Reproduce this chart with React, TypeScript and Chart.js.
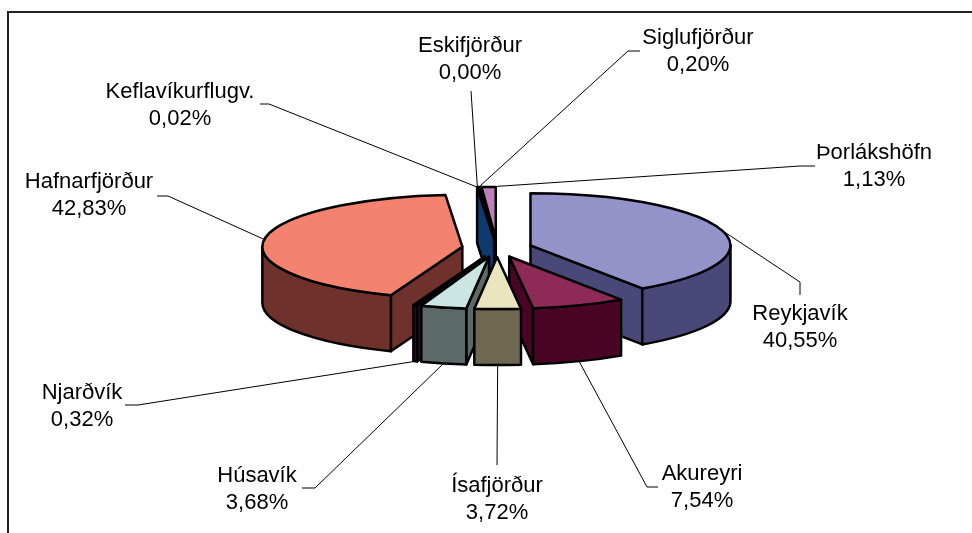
import React, { useEffect, useRef } from "react";
import { Chart, registerables } from "chart.js";

Chart.register(...registerables);

// ---- data ----
const categories = [
  "Reykjavík",
  "Akureyri",
  "Ísafjörður",
  "Húsavík",
  "Njarðvík",
  "Hafnarfjörður",
  "Keflavíkurflugv.",
  "Eskifjörður",
  "Siglufjörður",
  "Þorlákshöfn",
];
const shares = [40.55, 7.54, 3.72, 3.68, 0.32, 42.83, 0.02, 0.0, 0.2, 1.13];
const valueLabels = shares.map((v) => v.toFixed(2).replace(".", ",") + "%");

// ---- styles ----
const topColors = [
  "#9393C9",
  "#8E2A57",
  "#E9E6BF",
  "#CBE6E2",
  "#5C0A55",
  "#F3836E",
  "#1F5FAF",
  "#CCCCFF",
  "#0D2D5F",
  "#BF7FBD",
];
const sideColors = [
  "#4A4878",
  "#4A0525",
  "#6E6851",
  "#5B6967",
  "#3A0338",
  "#6F312C",
  "#0F3A70",
  "#66667F",
  "#0C2B5C",
  "#6A3A6A",
];

// label layout: [textCenterX, firstBaselineY, lineStartX, lineStartY, elbowX, elbowY]
const labelLayout = [
  [800, 320, 800, 295, 800, 282],
  [702, 480, 658, 487, 647, 487],
  [497, 492, 497, 465, 497, 465],
  [257, 482, 302, 488, 315, 488],
  [82, 399, 125, 405, 138, 405],
  [89, 188, 157, 196, 168, 196],
  [180, 98, 260, 104, 269, 104],
  [470, 52, 471, 91, 471, 91],
  [698, 44, 640, 51, 628, 51],
  [874, 159, 815, 166, 800, 166],
];

const TILT = 0.26;
const DEPTH = 56;
const EXPLODE = 35;
const LINE_H = 27;
const FONT = '22px "Liberation Sans", Arial, sans-serif';

function geom(arc: any) {
  const p = arc.getProps(["x", "y", "startAngle", "endAngle", "outerRadius"], true);
  const mid = (p.startAngle + p.endAngle) / 2;
  return {
    R: p.outerRadius as number,
    a0: p.startAngle as number,
    a1: p.endAngle as number,
    mid,
    ax: p.x + EXPLODE * Math.cos(mid),
    ay: p.y + EXPLODE * TILT * Math.sin(mid),
  };
}

function drawSlice(ctx: CanvasRenderingContext2D, g: any, top: string, side: string) {
  const { ax, ay, R, a0, a1 } = g;
  const ry = R * TILT;
  const px = (t: number) => ax + R * Math.cos(t);
  const py = (t: number) => ay + ry * Math.sin(t);
  ctx.lineWidth = 2.5;
  ctx.lineJoin = "round";
  ctx.strokeStyle = "#000";
  const face = (t: number) => {
    ctx.beginPath();
    ctx.moveTo(ax, ay);
    ctx.lineTo(px(t), py(t));
    ctx.lineTo(px(t), py(t) + DEPTH);
    ctx.lineTo(ax, ay + DEPTH);
    ctx.closePath();
    ctx.fillStyle = side;
    ctx.fill();
    ctx.stroke();
  };
  if (Math.cos(a0) < -1e-6) face(a0);
  if (Math.cos(a1) > 1e-6) face(a1);
  const t0 = Math.max(a0, 0);
  const t1 = Math.min(a1, Math.PI);
  if (t1 > t0) {
    ctx.beginPath();
    ctx.ellipse(ax, ay, R, ry, 0, t0, t1);
    ctx.lineTo(px(t1), py(t1) + DEPTH);
    ctx.ellipse(ax, ay + DEPTH, R, ry, 0, t1, t0, true);
    ctx.closePath();
    ctx.fillStyle = side;
    ctx.fill();
    ctx.stroke();
  }
  ctx.beginPath();
  ctx.moveTo(ax, ay);
  ctx.ellipse(ax, ay, R, ry, 0, a0, a1);
  ctx.closePath();
  ctx.fillStyle = top;
  ctx.fill();
  ctx.stroke();
}

const pie3d = {
  id: "pie3d",
  beforeDraw(chart: any) {
    const ctx = chart.ctx as CanvasRenderingContext2D;
    ctx.save();
    ctx.fillStyle = "#fff";
    ctx.fillRect(0, 0, chart.width, chart.height);
    ctx.strokeStyle = "#222";
    ctx.lineWidth = 2;
    ctx.beginPath();
    ctx.moveTo(8, chart.height + 10);
    ctx.lineTo(8, 12);
    ctx.lineTo(chart.width + 10, 12);
    ctx.stroke();
    ctx.restore();
  },
  beforeDatasetsDraw(chart: any) {
    const ctx = chart.ctx as CanvasRenderingContext2D;
    const meta = chart.getDatasetMeta(0);
    const geoms = meta.data.map((a: any) => geom(a));
    const order = geoms
      .map((_: any, i: number) => i)
      .filter((i: number) => geoms[i].a1 - geoms[i].a0 > 0)
      .sort((i: number, j: number) => Math.sin(geoms[i].mid) - Math.sin(geoms[j].mid));
    ctx.save();
    for (const i of order) drawSlice(ctx, geoms[i], topColors[i], sideColors[i]);
    ctx.restore();
    return false;
  },
  afterDraw(chart: any) {
    const ctx = chart.ctx as CanvasRenderingContext2D;
    const meta = chart.getDatasetMeta(0);
    ctx.save();
    ctx.strokeStyle = "#000";
    ctx.lineWidth = 1;
    ctx.font = FONT;
    ctx.fillStyle = "#000";
    ctx.textAlign = "center";
    ctx.textBaseline = "alphabetic";
    meta.data.forEach((arc: any, i: number) => {
      const g = geom(arc);
      const ry = g.R * TILT;
      const s = Math.sin(g.mid);
      const anchorX = g.ax + g.R * Math.cos(g.mid);
      const anchorY = g.ay + ry * s + (s > 0 ? DEPTH : 0);
      const [cx, by, sx, sy, ex, ey] = labelLayout[i];
      ctx.beginPath();
      ctx.moveTo(sx, sy);
      ctx.lineTo(ex, ey);
      ctx.lineTo(anchorX, anchorY);
      ctx.stroke();
      ctx.fillText(categories[i], cx, by);
      ctx.fillText(valueLabels[i], cx, by + LINE_H);
    });
    ctx.restore();
  },
};

export default function App() {
  const ref = useRef<HTMLCanvasElement>(null);
  useEffect(() => {
    if (!ref.current) return;
    const chart = new Chart(ref.current, {
      type: "pie",
      data: {
        labels: categories,
        datasets: [
          {
            data: shares,
            backgroundColor: topColors,
            borderWidth: 0,
            hoverBorderWidth: 0,
            hoverOffset: 0,
            offset: 0,
          },
        ],
      },
      options: {
        responsive: false,
        animation: false,
        events: [],
        layout: { padding: { left: 297, right: 275, top: 48, bottom: 85 } },
        plugins: { legend: { display: false }, tooltip: { enabled: false } },
      },
      plugins: [pie3d as any],
    } as any);
    return () => chart.destroy();
  }, []);
  return (
    <div style={{ position: "fixed", left: 0, top: 0, width: 972, height: 533, background: "#fff", overflow: "hidden" }}>
      <canvas ref={ref} width={972} height={533} style={{ display: "block", width: 972, height: 533 }} />
    </div>
  );
}
